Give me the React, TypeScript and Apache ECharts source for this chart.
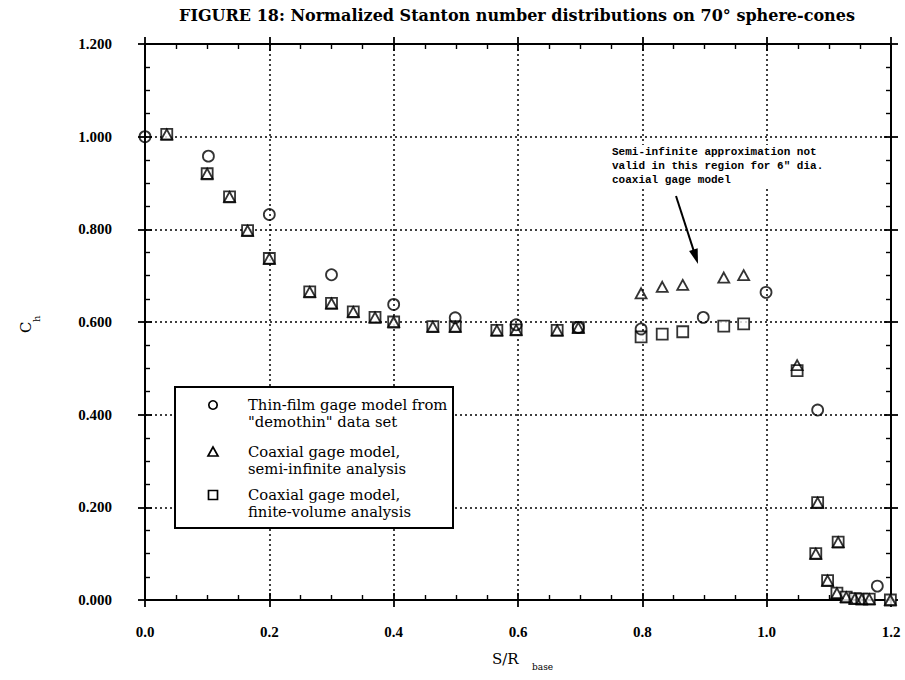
import React, { useEffect, useRef } from "react";
import * as echarts from "echarts";

// Axis ticks (S/R_base horizontally, C_h vertically)
const sTicks = [0, 0.2, 0.4, 0.6, 0.8, 1.0, 1.2];
const chTicks = [0, 0.2, 0.4, 0.6, 0.8, 1.0, 1.2];

// Thin-film gage model from "demothin" data set
const thinFilmS = [0.0, 0.102, 0.2, 0.3, 0.4, 0.499, 0.597, 0.697, 0.798, 0.898, 0.999, 1.082, 1.178];
const thinFilmCh = [1.0, 0.958, 0.832, 0.702, 0.638, 0.609, 0.594, 0.588, 0.585, 0.61, 0.664, 0.41, 0.03];

// Coaxial gage model, semi-infinite analysis
const semiInfS = [0.035, 0.1, 0.136, 0.165, 0.2, 0.265, 0.3, 0.335, 0.37, 0.4, 0.463, 0.499, 0.566, 0.597, 0.663, 0.697, 0.798, 0.832, 0.865, 0.931, 0.963, 1.049, 1.082, 1.079, 1.098, 1.115, 1.113, 1.128, 1.142, 1.153, 1.165, 1.199];
const semiInfCh = [1.005, 0.92, 0.87, 0.797, 0.737, 0.665, 0.64, 0.622, 0.61, 0.6, 0.59, 0.59, 0.582, 0.583, 0.582, 0.588, 0.662, 0.676, 0.68, 0.696, 0.701, 0.507, 0.21, 0.1, 0.042, 0.125, 0.015, 0.006, 0.003, 0.002, 0.002, 0.0];

// Coaxial gage model, finite-volume analysis
const finiteVolS = [0.035, 0.1, 0.136, 0.165, 0.2, 0.265, 0.3, 0.335, 0.37, 0.4, 0.463, 0.499, 0.566, 0.597, 0.663, 0.697, 0.798, 0.832, 0.865, 0.931, 0.963, 1.049, 1.082, 1.079, 1.098, 1.115, 1.113, 1.128, 1.142, 1.153, 1.165, 1.199];
const finiteVolCh = [1.005, 0.92, 0.87, 0.797, 0.737, 0.665, 0.64, 0.622, 0.61, 0.6, 0.59, 0.59, 0.582, 0.583, 0.582, 0.588, 0.568, 0.574, 0.579, 0.591, 0.596, 0.495, 0.21, 0.1, 0.042, 0.125, 0.015, 0.006, 0.003, 0.002, 0.002, 0.0];

const titleText = "FIGURE 18: Normalized Stanton number distributions on 70\u00B0 sphere-cones";
const legendLines = [
  ["Thin-film gage model from", "\"demothin\" data set"],
  ["Coaxial gage model,", "semi-infinite analysis"],
  ["Coaxial gage model,", "finite-volume analysis"],
];
const noteLines = [
  "Semi-infinite approximation not",
  "valid in this region for 6\" dia.",
  "coaxial gage model",
];

const SERIF = "'DejaVu Serif', 'Liberation Serif', serif";
const INK = "#000";
const TOP_Z = 100;

const zip = (xs: number[], ys: number[]) => xs.map((x, i) => [x, ys[i]]);

function makeAxes(ticks: number[], kind: "x" | "y") {
  const base = {
    type: "value",
    min: ticks[0],
    max: ticks[ticks.length - 1],
    interval: ticks[1] - ticks[0],
    silent: true,
  };
  const tickLine = { color: INK, width: 1.8 };
  const positions = kind === "x" ? ["bottom", "top"] : ["left", "right"];
  const axes: any[] = [];
  positions.forEach((pos, pi) => {
    // outer half of the major ticks, plus the frame line
    axes.push({
      ...base,
      position: pos,
      axisLine: { show: true, onZero: false, lineStyle: { color: INK, width: 2 } },
      axisTick: { show: true, inside: false, length: 7, lineStyle: tickLine },
      minorTick: { show: false },
      axisLabel:
        pi === 0
          ? {
              show: true,
              margin: kind === "x" ? 24 : 33,
              color: INK,
              fontFamily: "'Liberation Serif', serif",
              fontWeight: "bold",
              fontSize: 15,
              formatter: (v: number) => (kind === "x" ? v.toFixed(1) : v.toFixed(3)),
            }
          : { show: false },
      splitLine:
        pi === 0
          ? { show: true, lineStyle: { color: INK, width: 1.5, type: [2, 3] } }
          : { show: false },
    });
    // inner half of the major ticks and the minor ticks
    axes.push({
      ...base,
      position: pos,
      axisLine: { show: false, onZero: false },
      axisTick: { show: true, inside: true, length: 7, lineStyle: tickLine },
      minorTick: { show: true, splitNumber: 4, length: 5, lineStyle: { color: INK, width: 1.4 } },
      axisLabel: { show: false },
      splitLine: { show: false },
    });
  });
  return axes;
}

function arrow(x1: number, y1: number, x2: number, y2: number) {
  const len = Math.hypot(x2 - x1, y2 - y1);
  const ux = (x2 - x1) / len;
  const uy = (y2 - y1) / len;
  const head = 15;
  const half = 4.5;
  const bx = x2 - ux * head;
  const by = y2 - uy * head;
  return [
    { type: "line", z: TOP_Z, shape: { x1, y1, x2: bx + ux * 2, y2: by + uy * 2 }, style: { stroke: INK, lineWidth: 2 } },
    {
      type: "polygon",
      z: TOP_Z,
      shape: {
        points: [
          [x2, y2],
          [bx - uy * half, by + ux * half],
          [bx + uy * half, by - ux * half],
        ],
      },
      style: { fill: INK },
    },
  ];
}

function legendGraphic() {
  const left = 175;
  const top = 387;
  const w = 278;
  const h = 141;
  const symX = 213;
  const textX = 248;
  const rowY = [405, 452, 495];
  const items: any[] = [
    { type: "rect", z: TOP_Z, shape: { x: left, y: top, width: w, height: h }, style: { fill: "#fff", stroke: INK, lineWidth: 2 } },
    { type: "circle", z: TOP_Z + 1, shape: { cx: symX, cy: rowY[0], r: 4.2 }, style: { fill: "#fff", stroke: INK, lineWidth: 1.7 } },
    {
      type: "polygon",
      z: TOP_Z + 1,
      shape: { points: [[symX, rowY[1] - 5], [symX - 5, rowY[1] + 4], [symX + 5, rowY[1] + 4]] },
      style: { fill: "#fff", stroke: INK, lineWidth: 1.7 },
    },
    { type: "rect", z: TOP_Z + 1, shape: { x: symX - 4.5, y: rowY[2] - 4.5, width: 9, height: 9 }, style: { fill: "#fff", stroke: INK, lineWidth: 1.7 } },
  ];
  legendLines.forEach((lines, i) => {
    items.push({
      type: "text",
      z: TOP_Z + 1,
      x: textX,
      y: rowY[i] - 9,
      style: {
        text: lines.join("\n"),
        font: `14.8px ${SERIF}`,
        fill: INK,
        lineHeight: 17,
      },
    });
  });
  return items;
}

export default function App() {
  const ref = useRef<HTMLDivElement>(null);

  useEffect(() => {
    if (!ref.current) return;
    const chart = echarts.init(ref.current, null, { renderer: "svg" });

    const xAxes = makeAxes(sTicks, "x");
    const yAxes = makeAxes(chTicks, "y");

    const markerBorder = { borderColor: INK, borderWidth: 1.8 };

    chart.setOption({
      animation: false,
      backgroundColor: "#fff",
      grid: { left: 145, right: 14, top: 44, bottom: 80, containLabel: false },
      xAxis: xAxes,
      yAxis: yAxes,
      series: [
        {
          name: "Coaxial gage model, finite-volume analysis",
          type: "scatter",
          xAxisIndex: 0,
          yAxisIndex: 0,
          symbol: "rect",
          symbolSize: 11,
          itemStyle: { color: "#fff", ...markerBorder },
          data: zip(finiteVolS, finiteVolCh),
          z: 3,
        },
        {
          name: "Coaxial gage model, semi-infinite analysis",
          type: "scatter",
          xAxisIndex: 0,
          yAxisIndex: 0,
          symbol: "triangle",
          symbolSize: [11, 10],
          itemStyle: { color: "rgba(255,255,255,0)", ...markerBorder },
          data: zip(semiInfS, semiInfCh),
          z: 4,
        },
        {
          name: "Thin-film gage model from \"demothin\" data set",
          type: "scatter",
          xAxisIndex: 0,
          yAxisIndex: 0,
          symbol: "circle",
          symbolSize: 11,
          itemStyle: { color: "rgba(255,255,255,0)", ...markerBorder },
          data: zip(thinFilmS, thinFilmCh),
          z: 5,
        },
      ],
      graphic: [
        {
          type: "text",
          x: 517,
          y: 7,
          style: {
            text: titleText,
            font: `bold 16px ${SERIF}`,
            fill: INK,
            textAlign: "center",
          },
        },
        // y-axis name C_h, rotated
        {
          type: "text",
          x: 33,
          y: 333,
          rotation: Math.PI / 2,
          style: { text: "C", font: `15px ${SERIF}`, fill: INK, textAlign: "left", textVerticalAlign: "bottom" },
        },
        {
          type: "text",
          x: 31,
          y: 322,
          rotation: Math.PI / 2,
          style: { text: "h", font: `10px ${SERIF}`, fill: INK, textAlign: "left", textVerticalAlign: "top" },
        },
        // x-axis name S/R_base
        {
          type: "text",
          x: 492,
          y: 651,
          style: { text: "S/R", font: `15px ${SERIF}`, fill: INK },
        },
        {
          type: "text",
          x: 532,
          y: 662,
          style: { text: "base", font: `9px ${SERIF}`, fill: INK },
        },
        // note on the semi-infinite region
        {
          type: "text",
          z: TOP_Z,
          x: 612,
          y: 145,
          style: {
            text: noteLines.join("\n"),
            font: `bold 11px 'Liberation Mono', monospace`,
            fill: INK,
            lineHeight: 14,
            backgroundColor: "#fff",
          },
        },
        ...arrow(676, 196, 698, 264),
        ...legendGraphic(),
      ],
    });

    return () => chart.dispose();
  }, []);

  return (
    <div
      ref={ref}
      style={{ position: "absolute", left: 0, top: 0, width: 905, height: 680, background: "#fff" }}
    />
  );
}
